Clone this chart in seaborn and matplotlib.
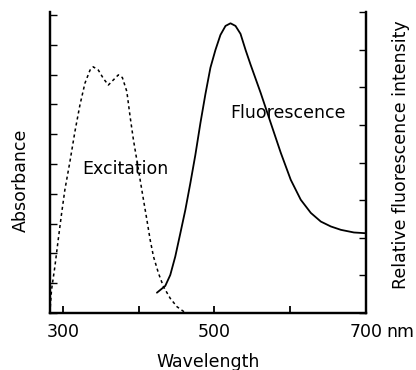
import pandas as pd
import matplotlib
matplotlib.use("Agg")
import matplotlib.pyplot as plt
import seaborn as sns

# excitation spectrum (left axis, absorbance, arbitrary units)
exc_nm = [282.8, 285.0, 289.4, 293.8, 298.3, 302.6, 309.3, 315.9, 322.5, 329.1,
          335.8, 340.1, 346.8, 353.4, 360.0, 366.6, 373.2, 378.5, 384.4, 388.7,
          393.1, 397.6, 402.0, 406.4, 410.9, 415.2, 419.6, 426.2, 432.8, 441.7,
          450.6, 461.6, 468.2]
exc_abs = [0.0, 0.77, 1.55, 2.45, 3.34, 4.13, 5.08, 6.09, 6.98, 7.71,
           8.15, 8.26, 8.15, 7.87, 7.65, 7.82, 7.99, 7.90, 7.43, 6.59,
           5.81, 5.13, 4.46, 3.79, 3.12, 2.45, 1.89, 1.33, 0.88, 0.49,
           0.21, 0.01, 0.0]

# fluorescence spectrum (right axis, relative intensity)
fl_nm = [424.1, 435.1, 441.7, 448.3, 455.0, 461.6, 468.2, 474.8, 481.5, 488.1,
         494.7, 501.3, 507.9, 514.6, 521.2, 527.8, 534.4, 541.1, 547.7, 561.0,
         574.3, 587.5, 600.7, 613.9, 627.2, 640.4, 653.6, 666.9, 684.1, 700.0]
fl_int = [0.54, 0.72, 1.01, 1.50, 2.12, 2.74, 3.45, 4.20, 5.05, 5.82,
          6.52, 6.99, 7.39, 7.63, 7.70, 7.63, 7.42, 6.99, 6.60, 5.85,
          5.05, 4.26, 3.54, 3.01, 2.66, 2.43, 2.30, 2.21, 2.14, 2.12]

x_major = [300, 500, 700]
x_major_labels = ["300", "500", "700"]
x_minor = [400, 600]
x_unit = "nm"

exc = pd.DataFrame({"wavelength": exc_nm, "value": exc_abs})
fl = pd.DataFrame({"wavelength": fl_nm, "value": fl_int})

sns.set_style("ticks")
plt.rcParams["font.family"] = ["DejaVu Sans"]
plt.rcParams["text.color"] = "black"
plt.rcParams["axes.labelcolor"] = "black"
plt.rcParams["xtick.color"] = "black"
plt.rcParams["ytick.color"] = "black"
plt.rcParams["axes.edgecolor"] = "black"
FS = 12.5

fig = plt.figure(figsize=(4.16, 3.70), dpi=100)
ax = fig.add_axes([50 / 416, 1 - 313 / 370, 316 / 416, 301 / 370])
ax2 = ax.twinx()

sns.lineplot(data=exc, x="wavelength", y="value", ax=ax, color="black",
             linewidth=1.1, linestyle=(0, (2, 2)))
sns.lineplot(data=fl, x="wavelength", y="value", ax=ax2, color="black",
             linewidth=1.3)

ax.set_xlim(283, 700)
ax.set_ylim(0, 10.1)
ax2.set_ylim(0, 8)

ax.set_xticks(x_major)
ax.set_xticklabels(x_major_labels, fontsize=FS)
ax.set_xticks(x_minor, minor=True)
ax.set_yticks(range(0, 11))
ax.set_yticklabels([])
ax2.set_yticks(range(0, 9))
ax2.set_yticklabels([])

ax.tick_params(axis="x", which="both", direction="in", length=5, width=1.3, pad=7)
ax.tick_params(axis="y", direction="in", length=5, width=1.0)
ax2.tick_params(axis="y", direction="in", length=5, width=1.0)

for a in (ax, ax2):
    a.spines["top"].set_visible(False)
    for s in ("left", "right", "bottom"):
        a.spines[s].set_linewidth(1.6)
        a.spines[s].set_color("black")

ax.annotate(x_unit, xy=(700, 0), xycoords=("data", "axes fraction"),
            xytext=(14.5, -7), textcoords="offset points",
            ha="left", va="top", fontsize=FS)

ax.set_xlabel("Wavelength", fontsize=FS)
ax.xaxis.set_label_coords(0.5, -0.163)
ax.xaxis.label.set_va("center")
ax.set_ylabel("Absorbance", fontsize=FS)
ax.yaxis.set_label_coords(-0.092, 0.44)
ax.yaxis.label.set_va("center")
ax2.set_ylabel("Relative fluorescence intensity", fontsize=FS)
ax2.yaxis.set_label_coords(1.11, 0.527)
ax2.yaxis.label.set_va("center")
ax2.yaxis.label.set_rotation(90)

ax.text(325, 4.83, "Excitation", fontsize=FS, ha="left", va="center")
ax2.text(521, 5.32, "Fluorescence", fontsize=FS, ha="left", va="center")

fig.savefig("out.png", dpi=100, facecolor="white")
